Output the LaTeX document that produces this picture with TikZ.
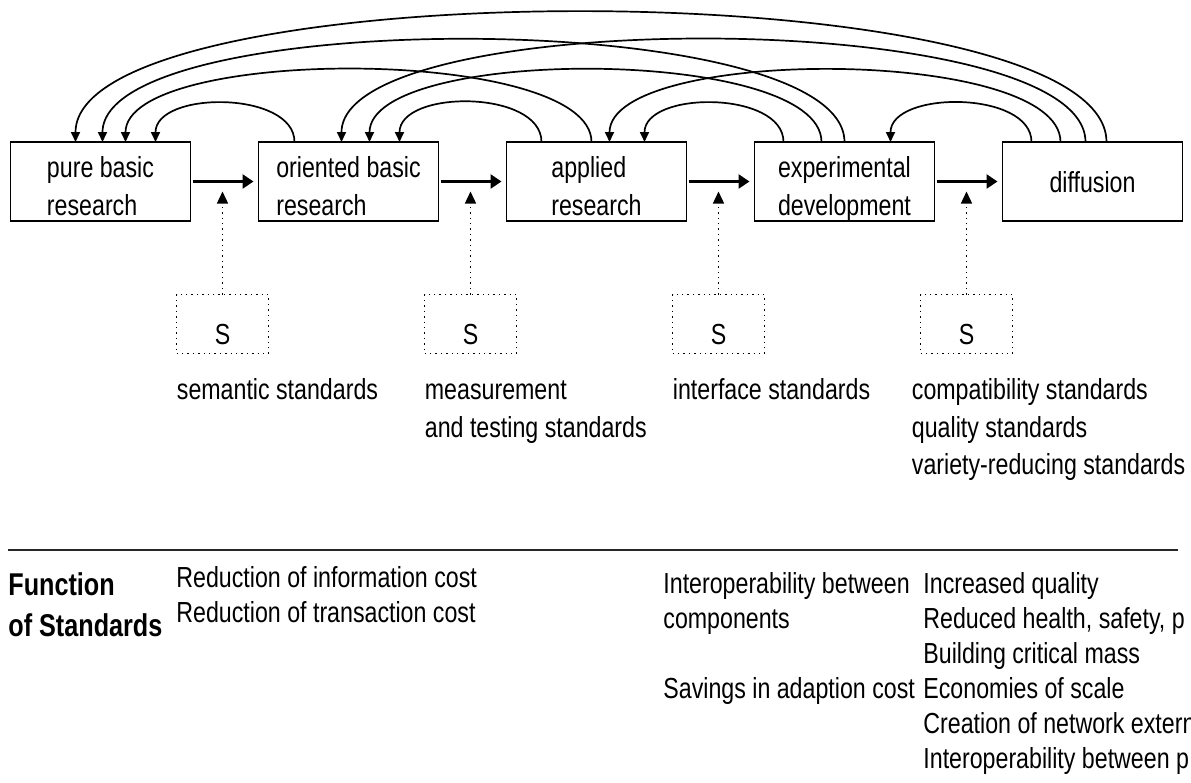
\documentclass[tikz,border=0pt]{standalone}
\usepackage{fontspec}
\setmainfont{Liberation Sans}[FakeStretch=0.8]
\usetikzlibrary{positioning,arrows.meta}

\begin{document}
\begin{tikzpicture}[x=0.5pt,y=-0.5pt,
    every node/.style={font=\fontsize{14.5pt}{18.75pt}\selectfont},
    stage/.style={draw,line width=0.9pt,outer sep=0pt,minimum width=90pt,minimum height=39.5pt,
                  inner ysep=2pt,align=left,text height=33.5pt,text depth=0pt},
    sbox/.style={draw,dotted,line width=0.7pt,outer sep=0pt,minimum width=46pt,minimum height=29.5pt,
                 text height=20.5pt,text depth=0pt},
    lbl/.style={inner sep=0pt,align=left,anchor=base west},
    list/.style={inner sep=0pt,align=left,anchor=base west,font=\fontsize{14.5pt}{17.5pt}\selectfont},
    flow/.style={-{Triangle[length=5.5pt,width=7pt]},line width=1.5pt,shorten <=1pt,shorten >=2.5pt},
    std/.style={-{Triangle[length=6pt,width=5.5pt]},dotted,line width=0.7pt},
    back/.style={-{Triangle[length=5pt,width=4.5pt]},line width=0.85pt,out=90,in=90}]
    \useasboundingbox (0,0) rectangle (1191,783);

    % stages of the innovation process
    \node[stage] (pbr) at (100.5,181.5) {pure basic\\research};
    \node[stage,right=34pt of pbr] (obr) {oriented basic\\research};
    \node[stage,right=34pt of obr] (apr) {applied\\research};
    \node[stage,right=34pt of apr] (exd) {experimental\\development};
    \node[stage,right=34pt of exd,text height=11pt] (dif) {diffusion};
    \path (pbr) edge[flow] (obr)
          (obr) edge[flow] (apr)
          (apr) edge[flow] (exd)
          (exd) edge[flow] (dif);

    % feedback loops
    \path ([xshift=18pt]obr.north west) edge[back,looseness=0.95] ([xshift=72.5pt]pbr.north west)
          ([xshift=17.5pt]apr.north west) edge[back,looseness=0.95] ([xshift=70.5pt]obr.north west)
          ([xshift=14.5pt]exd.north west) edge[back,looseness=0.95] ([xshift=69pt]apr.north west)
          ([xshift=14.5pt]dif.north west) edge[back,looseness=0.94] ([xshift=68pt]exd.north west)
          ([xshift=42.5pt]apr.north west) edge[back,looseness=0.53] ([xshift=57.5pt]pbr.north west)
          ([xshift=33.5pt]exd.north west) edge[back,looseness=0.545] ([xshift=55.5pt]obr.north west)
          ([xshift=29pt]dif.north west) edge[back,looseness=0.545] ([xshift=51.5pt]apr.north west)
          ([xshift=45pt]exd.north west) edge[back,looseness=0.47] ([xshift=46pt]pbr.north west)
          ([xshift=41.5pt]dif.north west) edge[back,looseness=0.47] ([xshift=41.5pt]obr.north west)
          ([xshift=52pt]dif.north west) edge[back,looseness=0.43] ([xshift=32.5pt]pbr.north west);

    % standards
    \coordinate (g1) at ([xshift=16pt]pbr.east);
    \coordinate (g2) at ([xshift=16pt]obr.east);
    \coordinate (g3) at ([xshift=16pt]apr.east);
    \coordinate (g4) at ([xshift=16pt]exd.east);
    \coordinate[below=5pt of g1] (t1);
    \coordinate[below=5pt of g2] (t2);
    \coordinate[below=5pt of g3] (t3);
    \coordinate[below=5pt of g4] (t4);
    \node[sbox,below=56.5pt of g1] (s1) {S};
    \node[sbox,below=56.5pt of g2] (s2) {S};
    \node[sbox,below=56.5pt of g3] (s3) {S};
    \node[sbox,below=56.5pt of g4] (s4) {S};
    \draw[std] (s1) -- (t1);
    \draw[std] (s2) -- (t2);
    \draw[std] (s3) -- (t3);
    \draw[std] (s4) -- (t4);
    % (base of a node of several lines = its last line)
    \node[lbl] (l1) at ([yshift=-23pt]s1.south west) {semantic standards};
    \node[lbl] (l2) at ([yshift=-41.75pt]s2.south west) {measurement\\and testing standards};
    \node[lbl] (l3) at ([yshift=-23pt]s3.south west) {interface standards};
    \node[lbl] (l4) at ([xshift=-4.5pt,yshift=-60.5pt]s4.south west)
        {compatibility standards\\quality standards\\variety-reducing standards};

    % functions
    \draw[line width=1pt,black!85] (8,550) -- (1178,550);
    \node[list,font=\bfseries\fontsize{15.75pt}{20.5pt}\selectfont] (fos) at (8,636) {Function\\of Standards};
    \node[list] (rc) at (176,622) {Reduction of information cost\\Reduction of transaction cost};
    \node[list] (ib) at (663,628) {Interoperability between\\components};
    \node[list] (sa) at (663,698) {Savings in adaption cost};
    \node[list] (iq) at (923,768) {Increased quality\\Reduced health, safety, p\\Building critical mass\\Economies of scale\\Creation of network extern\\Interoperability between p};
\end{tikzpicture}
\end{document}
